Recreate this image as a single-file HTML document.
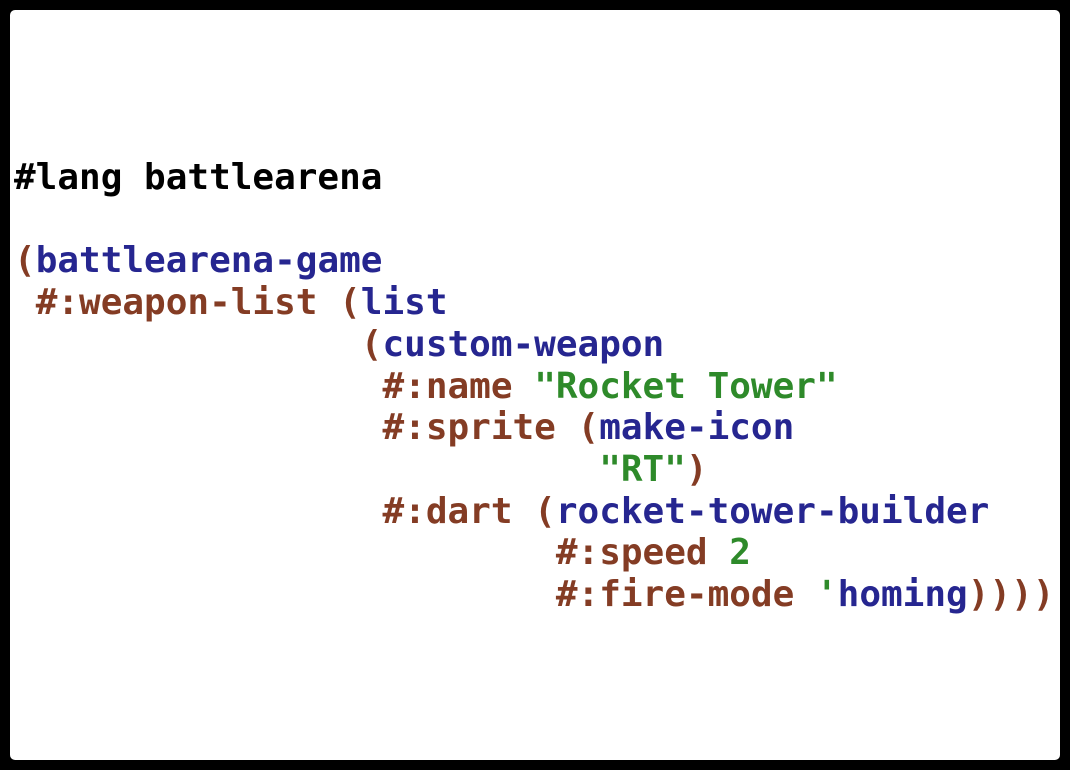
<!DOCTYPE html>
<html><head><meta charset="utf-8"><style>
html,body{margin:0;padding:0;background:#000;width:1070px;height:770px;overflow:hidden}
.box{position:absolute;left:10px;top:10px;width:1050px;height:750px;background:#fff;border-radius:5px}
pre{position:absolute;left:14px;top:157px;margin:0;font-family:"DejaVu Sans Mono","Liberation Mono",monospace;font-weight:bold;font-size:36px;line-height:41.7px;color:#000}
.p{color:#843c24}.b{color:#262690}.g{color:#2e8a2a}
</style></head><body>
<div class="box"></div>
<pre>#lang battlearena

<span class="p">(</span><span class="b">battlearena-game</span>
 <span class="p">#:weapon-list (</span><span class="b">list</span>
                <span class="p">(</span><span class="b">custom-weapon</span>
                 <span class="p">#:name </span><span class="g">"Rocket Tower"</span>
                 <span class="p">#:sprite (</span><span class="b">make-icon</span>
                           <span class="g">"RT"</span><span class="p">)</span>
                 <span class="p">#:dart (</span><span class="b">rocket-tower-builder</span>
                         <span class="p">#:speed </span><span class="g">2</span>
                         <span class="p">#:fire-mode </span><span class="g">'</span><span class="b">homing</span><span class="p">))))</span></pre>
</body></html>
